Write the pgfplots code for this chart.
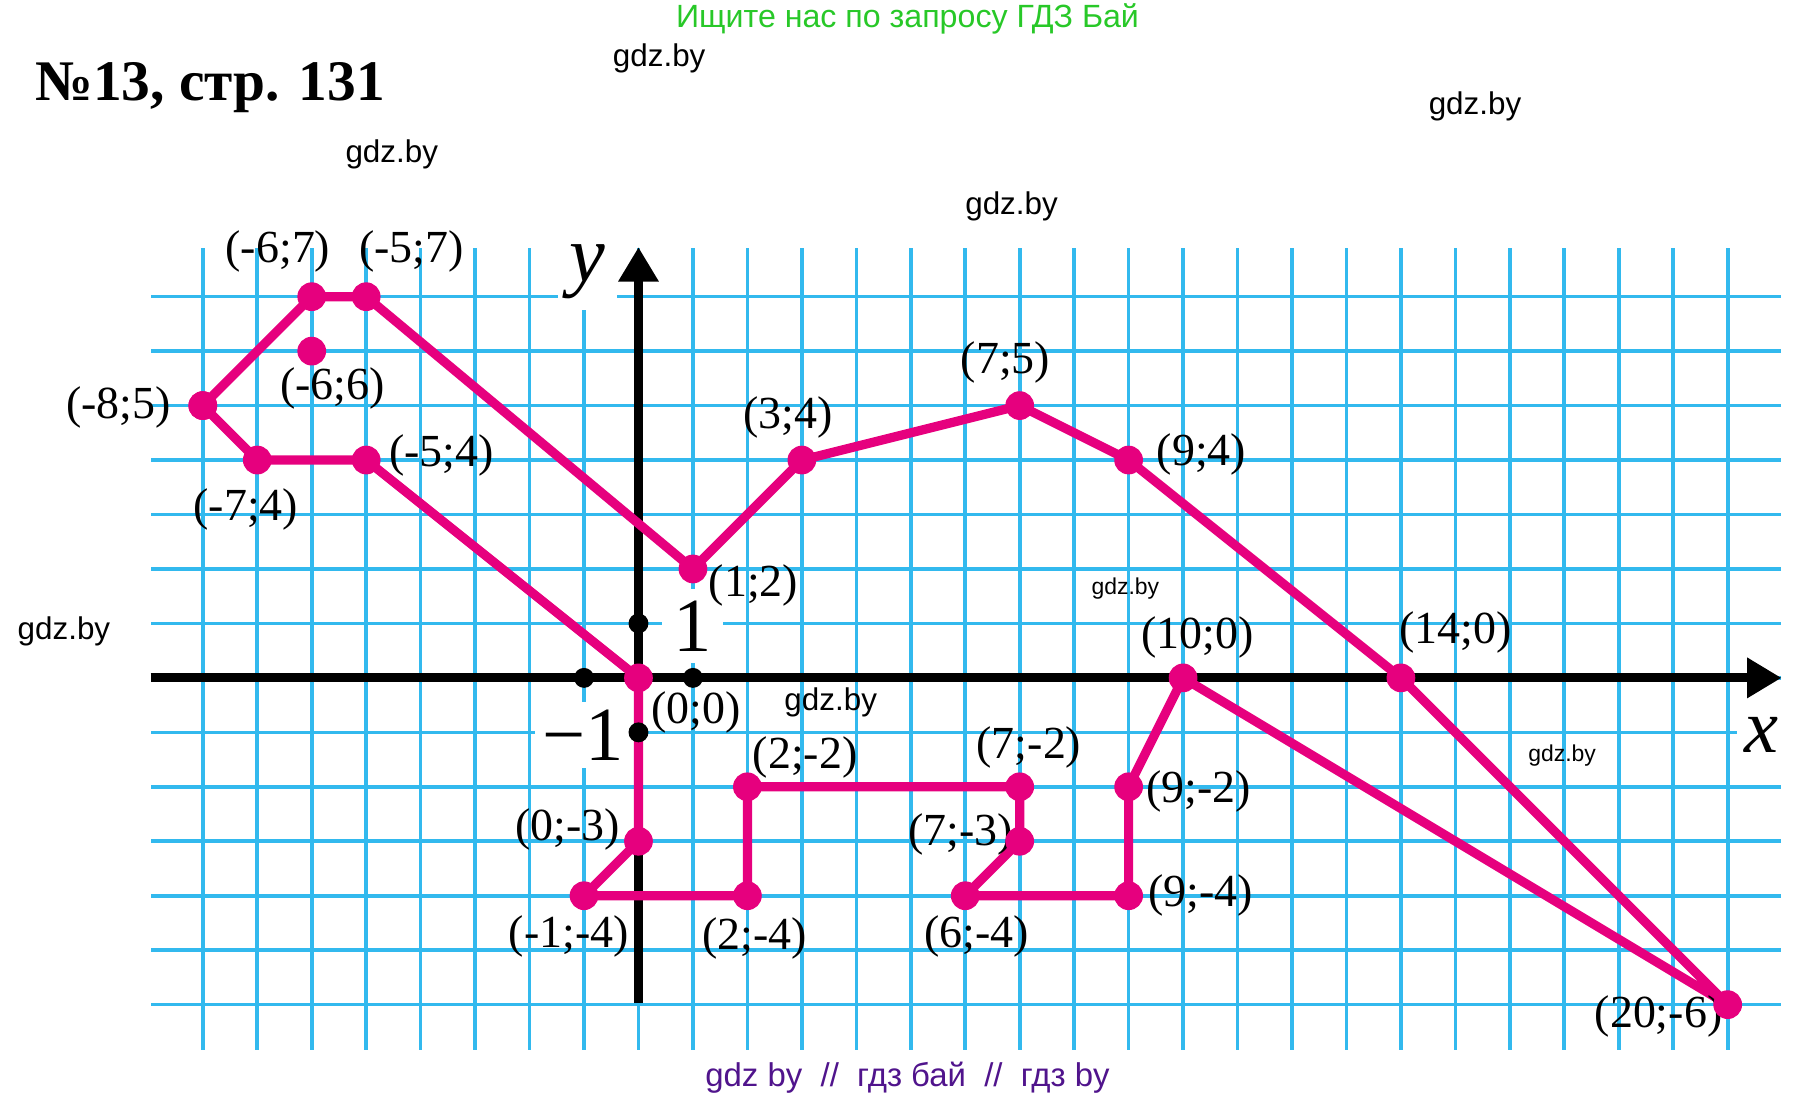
\documentclass[border=0pt]{standalone}
\usepackage{graphicx}
\usepackage{pgfplots}
\pgfplotsset{compat=1.18}
\usetikzlibrary{arrows.meta}
\usepackage{fontspec}
\setmainfont{Liberation Serif}
\newfontfamily\wm{Liberation Sans}
\definecolor{gridblue}{RGB}{50,185,238}
\definecolor{pinkl}{RGB}{230,0,126}
\definecolor{wmgreen}{RGB}{40,200,40}
\definecolor{wmpurple}{RGB}{80,20,140}
\tikzset{
  lbl/.style={font=\fontsize{12}{12}\selectfont, inner sep=0pt},
  wmk/.style={font=\wm\fontsize{8.2}{8.2}\selectfont, inner sep=0pt},
  wms/.style={font=\wm\fontsize{6}{6}\selectfont, inner sep=0pt},
}
\begin{document}
\begin{tikzpicture}
\begin{axis}[
  scale only axis, width=16.682cm, height=10.072cm,
  xmin=-11.724, xmax=21.64, ymin=-7.696, ymax=12.448,
  hide axis, clip=false,
]
\path (rel axis cs:0,0) rectangle (rel axis cs:1,1);
% grid
\pgfplotsinvokeforeach{-8,...,20}{\addplot[gridblue, line width=0.95pt, forget plot] coordinates {(#1,-6.83) (#1,7.89)};}
\pgfplotsinvokeforeach{-6,...,7}{\addplot[gridblue, line width=0.95pt, forget plot] coordinates {(-8.95,#1) (20.97,#1)};}
% white-backed axis labels
\node[fill=white, inner sep=3pt, font=\itshape\fontsize{21}{21}\selectfont] at (axis cs:-0.94,7.46) {y};
\node[fill=white, inner sep=2pt, font=\itshape\fontsize{20}{20}\selectfont] at (axis cs:20.62,-1.04) {x};
\node[fill=white, inner sep=3pt, font=\fontsize{20}{20}\selectfont] at (axis cs:0.99,0.95) {1};
\node[fill=white, inner sep=2pt, font=\fontsize{20}{20}\selectfont] at (axis cs:-1.01,-1.05) {−1};
% axes
\addplot[black, line width=2.3pt, -{Triangle[length=9pt,width=10pt]}, forget plot] coordinates {(-8.96,0) (20.99,0)};
\addplot[black, line width=2.3pt, -{Triangle[length=9pt,width=10pt]}, forget plot] coordinates {(0,-5.97) (0,7.91)};
\addplot[black, only marks, mark=*, mark size=2.4pt, forget plot] coordinates {(-1,0) (1,0) (0,1) (0,-1)};
% figure
\addplot[pinkl, line width=2.4pt, line join=round, mark=*, mark size=3.6pt,
  mark options={line width=0.3pt, fill=pinkl}, forget plot] coordinates {
  (-8,5) (-6,7) (-5,7) (1,2) (3,4) (7,5) (9,4) (14,0) (20,-6) (10,0) (9,-2) (9,-4)
  (6,-4) (7,-3) (7,-2) (2,-2) (2,-4) (-1,-4) (0,-3) (0,0) (-5,4) (-7,4) (-8,5)};
\addplot[pinkl, only marks, mark=*, mark size=3.6pt, mark options={line width=0.3pt, fill=pinkl}, forget plot] coordinates {(-6,6)};
% point labels
\node[lbl] at (axis cs:-6.62,7.83) {(-6;7)};
\node[lbl] at (axis cs:-4.17,7.83) {(-5;7)};
\node[lbl] at (axis cs:-5.62,5.32) {(-6;6)};
\node[lbl] at (axis cs:-9.55,4.96) {(-8;5)};
\node[lbl] at (axis cs:-7.21,3.09) {(-7;4)};
\node[lbl] at (axis cs:-3.62,4.09) {(-5;4)};
\node[lbl] at (axis cs:2.11,1.70) {(1;2)};
\node[lbl] at (axis cs:2.74,4.79) {(3;4)};
\node[lbl] at (axis cs:6.74,5.79) {(7;5)};
\node[lbl] at (axis cs:10.34,4.11) {(9;4)};
\node[lbl] at (axis cs:10.26,0.74) {(10;0)};
\node[lbl] at (axis cs:15.0,0.83) {(14;0)};
\node[lbl] at (axis cs:1.06,-0.64) {(0;0)};
\node[lbl] at (axis cs:3.06,-1.47) {(2;-2)};
\node[lbl] at (axis cs:7.17,-1.28) {(7;-2)};
\node[lbl] at (axis cs:-1.30,-2.79) {(0;-3)};
\node[lbl] at (axis cs:5.91,-2.87) {(7;-3)};
\node[lbl] at (axis cs:10.28,-2.09) {(9;-2)};
\node[lbl] at (axis cs:10.32,-4.0) {(9;-4)};
\node[lbl] at (axis cs:-1.28,-4.74) {(-1;-4)};
\node[lbl] at (axis cs:2.13,-4.79) {(2;-4)};
\node[lbl] at (axis cs:6.21,-4.74) {(6;-4)};
\node[lbl] at (axis cs:18.73,-6.21) {(20;-6)};
% title
\node[anchor=base west, inner sep=0pt, font=\bfseries\fontsize{15}{15}\selectfont] at (axis cs:-11.09,10.61) {№13, стр. 131};
% watermarks
\node[anchor=base, inner sep=0pt, text=wmgreen, font=\wm\fontsize{8.4}{8.4}\selectfont] at (axis cs:4.94,11.94) {Ищите нас по запросу ГДЗ Бай};
\node[anchor=base, inner sep=0pt, text=wmpurple, font=\wm\fontsize{8.6}{8.6}\selectfont] at (axis cs:4.94,-7.51) {gdz by\ \ //\ \ гдз бай\ \ //\ \ гдз by};
\node[wmk] at (axis cs:0.38,11.38) {gdz.by};
\node[wmk] at (axis cs:-4.53,9.62) {gdz.by};
\node[wmk] at (axis cs:15.36,10.49) {gdz.by};
\node[wmk] at (axis cs:6.85,8.66) {gdz.by};
\node[wmk] at (axis cs:-10.55,0.85) {gdz.by};
\node[wmk] at (axis cs:3.53,-0.45) {gdz.by};
\node[wms] at (axis cs:8.94,1.64) {gdz.by};
\node[wms] at (axis cs:16.96,-1.42) {gdz.by};
\end{axis}
\end{tikzpicture}
\end{document}
